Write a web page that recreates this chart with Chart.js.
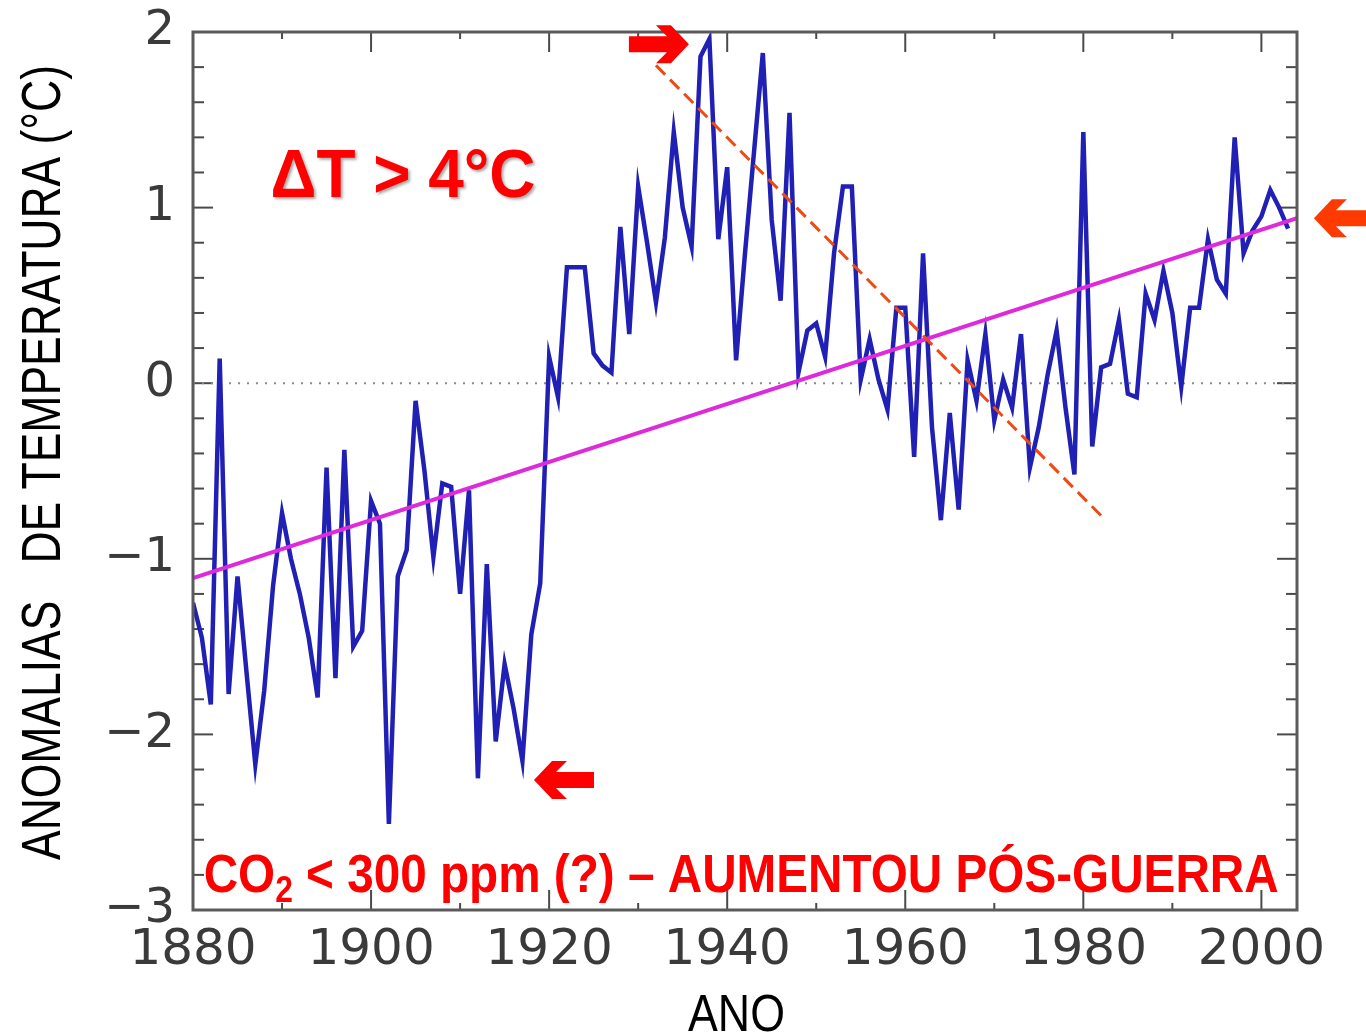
<!DOCTYPE html>
<html><head><meta charset="utf-8">
<script src="https://cdn.jsdelivr.net/npm/chart.js@4.4.0/dist/chart.umd.min.js"></script>
<style>html,body{margin:0;padding:0;background:#fff;}canvas{display:block}</style>
</head><body>
<canvas id="c" width="1366" height="1035"></canvas>
<script>
// ---- data ----
const years = [1880,1881,1882,1883,1884,1885,1886,1887,1888,1889,
  1890,1891,1892,1893,1894,1895,1896,1897,1898,1899,
  1900,1901,1902,1903,1904,1905,1906,1907,1908,1909,
  1910,1911,1912,1913,1914,1915,1916,1917,1918,1919,
  1920,1921,1922,1923,1924,1925,1926,1927,1928,1929,
  1930,1931,1932,1933,1934,1935,1936,1937,1938,1939,
  1940,1941,1942,1943,1944,1945,1946,1947,1948,1949,
  1950,1951,1952,1953,1954,1955,1956,1957,1958,1959,
  1960,1961,1962,1963,1964,1965,1966,1967,1968,1969,
  1970,1971,1972,1973,1974,1975,1976,1977,1978,1979,
  1980,1981,1982,1983,1984,1985,1986,1987,1988,1989,
  1990,1991,1992,1993,1994,1995,1996,1997,1998,1999,
  2000,2001,2002,2003];
const anomalies = [-1.25,-1.45,-1.83,0.14,-1.77,-1.10,-1.64,-2.17,-1.75,-1.15,
  -0.74,-1.00,-1.20,-1.45,-1.79,-0.48,-1.68,-0.38,-1.50,-1.41,
  -0.67,-0.80,-2.51,-1.10,-0.95,-0.10,-0.50,-0.99,-0.57,-0.59,
  -1.20,-0.61,-2.25,-1.03,-2.04,-1.60,-1.85,-2.15,-1.43,-1.14,
  0.15,-0.08,0.66,0.66,0.66,0.17,0.10,0.06,0.89,0.28,
  1.12,0.80,0.46,0.83,1.43,1.00,0.78,1.86,1.96,0.82,
  1.23,0.13,0.74,1.31,1.88,0.93,0.47,1.54,0.06,0.30,
  0.34,0.15,0.74,1.12,1.12,0.02,0.25,0.02,-0.15,0.43,
  0.43,-0.42,0.74,-0.25,-0.78,-0.17,-0.72,0.13,-0.10,0.28,
  -0.21,0.02,-0.14,0.28,-0.48,-0.25,0.05,0.30,-0.14,-0.52,
  1.43,-0.36,0.09,0.11,0.36,-0.06,-0.08,0.51,0.36,0.64,
  0.40,-0.02,0.43,0.43,0.82,0.59,0.51,1.40,0.74,0.87,
  0.95,1.10,1.00,0.88];
const trendYears = [1880, 2004];
const trendValues = [-1.11, 0.94];
const declineYears = [1932.0, 1982.3];
const declineValues = [1.81, -0.77];
const zeroYears = [1880, 2004];
const zeroValues = [0, 0];
const xTickLabels = [1880, 1900, 1920, 1940, 1960, 1980, 2000];
const yTickLabels = [2, 1, 0, -1, -2, -3];

// annotation anchors (data coordinates)
const arrowMarks = [
  {x: 1935.7, y: 1.93, dir: 1, color: '#ff0000'},
  {x: 1918.3, y: -2.26, dir: -1, color: '#ff0000'},
  {x: 2005.9, y: 0.94, dir: -1, color: '#ff3a00'}
];

const pts = (xs, ys) => xs.map((v, i) => ({x: v, y: ys[i]}));

function fitText(ctx, text, x, y, width) {
  const w = ctx.measureText(text).width;
  ctx.save();
  ctx.translate(x, y);
  ctx.scale(width / w, 1);
  ctx.fillText(text, 0, 0);
  ctx.restore();
}

const framePlugin = {
  id: 'frame',
  beforeDatasetsDraw(chart) {
    const {ctx, chartArea: a, scales: {x, y}} = chart;
    ctx.save();
    ctx.strokeStyle = '#4a4a4a';
    ctx.lineWidth = 2;
    const seg = (x1, y1, x2, y2) => { ctx.beginPath(); ctx.moveTo(x1, y1); ctx.lineTo(x2, y2); ctx.stroke(); };
    for (let k = -15; k <= 10; k++) {
      const py = y.getPixelForValue(k / 5);
      const len = (k % 5 === 0) ? 20 : 11;
      seg(a.left, py, a.left + len, py);
      seg(a.right, py, a.right - len, py);
    }
    for (let yr = 1880; yr <= 2000; yr += 10) {
      const px = x.getPixelForValue(yr);
      const len = (yr % 20 === 0) ? 20 : 7;
      seg(px, a.bottom, px, a.bottom - len);
      seg(px, a.top, px, a.top + len);
    }
    ctx.restore();
  },
  afterDatasetsDraw(chart) {
    const {ctx, chartArea: a} = chart;
    ctx.save();
    ctx.strokeStyle = '#5a5a5a';
    ctx.lineWidth = 3;
    ctx.strokeRect(a.left, a.top, a.right - a.left, a.bottom - a.top);
    ctx.restore();
  }
};

const annotPlugin = {
  id: 'annot',
  afterDraw(chart) {
    const {ctx, scales: {x, y}} = chart;
    // arrows
    arrowMarks.forEach(m => {
      const tx = x.getPixelForValue(m.x), ty = y.getPixelForValue(m.y);
      const d = m.dir;
      const shape = [[0,0],[-18,-19],[-33,-19],[-22,-8],[-60,-8],[-60,8],[-22,8],[-33,19],[-18,19]];
      ctx.save();
      ctx.fillStyle = m.color;
      ctx.beginPath();
      shape.forEach((p, i) => {
        const px = tx + d * p[0], py = ty + p[1];
        if (i === 0) ctx.moveTo(px, py); else ctx.lineTo(px, py);
      });
      ctx.closePath();
      ctx.fill();
      ctx.restore();
    });

    // Delta T text
    ctx.save();
    ctx.fillStyle = '#ff0000';
    ctx.font = 'bold 68px "Liberation Sans", Arial, sans-serif';
    ctx.textBaseline = 'alphabetic';
    ctx.shadowColor = 'rgba(0,0,0,0.35)';
    ctx.shadowOffsetX = 2; ctx.shadowOffsetY = 2; ctx.shadowBlur = 3;
    fitText(ctx, 'ΔT > 4°C', x.getPixelForValue(1888.7), y.getPixelForValue(1.06), 265);
    ctx.restore();

    // CO2 text
    ctx.save();
    ctx.fillStyle = '#ff0000';
    const big = 'bold 54px "Liberation Sans Narrow", "Liberation Sans", Arial, sans-serif';
    const small = 'bold 36px "Liberation Sans Narrow", "Liberation Sans", Arial, sans-serif';
    const p1 = 'CO', p2 = '2', p3 = ' < 300 ppm (?) – AUMENTOU PÓS-GUERRA';
    ctx.font = big; const w1 = ctx.measureText(p1).width; const w3 = ctx.measureText(p3).width;
    ctx.font = small; const w2 = ctx.measureText(p2).width;
    const total = w1 + w2 + w3;
    const sx = 1075 / total;
    const bx = x.getPixelForValue(1881.2), by = y.getPixelForValue(-2.897);
    ctx.translate(bx, by);
    ctx.scale(sx, 1);
    ctx.font = big; ctx.fillText(p1, 0, 0);
    ctx.font = small; ctx.fillText(p2, w1, 10);
    ctx.font = big; ctx.fillText(p3, w1 + w2, 0);
    ctx.restore();

    // y-axis title
    ctx.save();
    ctx.fillStyle = '#000';
    ctx.font = '56px "Liberation Sans Narrow", "Liberation Sans", Arial, sans-serif';
    ctx.textBaseline = 'alphabetic';
    ctx.translate(60, 860);
    ctx.rotate(-Math.PI / 2);
    fitText(ctx, 'ANOMALIAS   DE TEMPERATURA (°C)', 0, 0, 795);
    ctx.restore();

    // x-axis title
    ctx.save();
    ctx.fillStyle = '#000';
    ctx.font = '52px "Liberation Sans", Arial, sans-serif';
    ctx.textBaseline = 'alphabetic';
    fitText(ctx, 'ANO', 688, 1031, 97);
    ctx.restore();
  }
};

new Chart(document.getElementById('c').getContext('2d'), {
  type: 'line',
  data: {
    datasets: [
      {label: 'Anomalia', data: pts(years, anomalies), borderColor: '#2020b4', borderWidth: 4.5,
       pointRadius: 0, tension: 0, order: 3, borderJoinStyle: 'miter'},
      {label: 'Tendência', data: pts(trendYears, trendValues), borderColor: '#dd2adb', borderWidth: 4,
       pointRadius: 0, order: 2},
      {label: 'Queda', data: pts(declineYears, declineValues), borderColor: '#f04a14', borderWidth: 3,
       borderDash: [13, 7], pointRadius: 0, order: 1},
      {label: 'Zero', data: pts(zeroYears, zeroValues), borderColor: '#8a8a8a', borderWidth: 2,
       borderDash: [2, 7], pointRadius: 0, order: 4}
    ]
  },
  options: {
    responsive: false,
    animation: false,
    devicePixelRatio: 1,
    layout: {padding: {left: 0, right: 69, top: 32, bottom: 0}},
    plugins: {legend: {display: false}, tooltip: {enabled: false}},
    scales: {
      x: {
        type: 'linear', min: 1880, max: 2004,
        afterFit(s) { s.height = 125; s.paddingLeft = 0; s.paddingRight = 0; },
        grid: {display: false, drawTicks: false}, border: {display: false},
        ticks: {
          stepSize: 20, autoSkip: false, maxRotation: 0, padding: 11, includeBounds: false,
          color: '#3a3a3a', font: {family: '"DejaVu Sans"', size: 50},
          callback: v => xTickLabels.includes(v) ? String(v) : null
        }
      },
      y: {
        min: -3, max: 2,
        afterFit(s) { s.width = 193; s.paddingTop = 0; s.paddingBottom = 0; },
        grid: {display: false, drawTicks: false}, border: {display: false},
        ticks: {
          stepSize: 1, padding: 18, autoSkip: false,
          color: '#3a3a3a', font: {family: '"DejaVu Sans"', size: 48},
          callback: v => yTickLabels.includes(v) ? (v < 0 ? '−' + Math.abs(v) : String(v)) : null
        }
      }
    }
  },
  plugins: [framePlugin, annotPlugin]
});
</script>
</body></html>
